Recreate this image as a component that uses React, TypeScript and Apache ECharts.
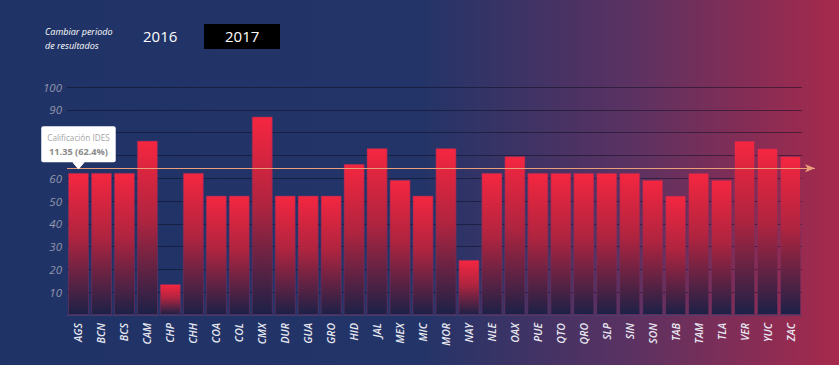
import React, { useEffect, useRef } from "react";
import * as echarts from "echarts";

const categories = ["AGS","BCN","BCS","CAM","CHP","CHH","COA","COL","CMX","DUR","GUA","GRO","HID","JAL","MEX","MIC","MOR","NAY","NLE","OAX","PUE","QTO","QRO","SLP","SIN","SON","TAB","TAM","TLA","VER","YUC","ZAC"];
const values = [62.4,62.4,62.4,76.5,13.6,62.4,52.4,52.4,87.1,52.4,52.4,52.4,66.3,73.2,59.3,52.4,73.2,24.2,62.4,69.7,62.4,62.4,62.4,62.4,62.4,59.3,52.4,62.4,59.3,76.5,73.2,69.7];
const referenceValue = 64.4;
const yTicks = [0, 100, 10];
// tick labels hidden: 0 is not shown, 70 and 80 sit under the tooltip box
const hiddenTickLabels = [0, 70, 80];
const tipCategory = "AGS";
const tipTitle = "Calificación IDES";
const tipScore = "11.35";
const tipPercent = 62.4;
const periods = ["2016", "2017"];

export default function App() {
  const ref = useRef<HTMLDivElement>(null);
  useEffect(() => {
    document.body.style.margin = "0";
    const chart = echarts.init(ref.current!, null, { renderer: "svg" });
    const font = "Open Sans";
    const pointer = {
      coord: [tipCategory, tipPercent],
      symbol: "triangle",
      symbolRotate: 180,
      symbolSize: [12, 7],
      symbolOffset: [0, -7],
      itemStyle: { color: "#ffffff" },
    };
    chart.setOption({
      animation: false,
      backgroundColor: {
        type: "linear", x: 0, y: 0, x2: 1, y2: 0,
        colorStops: [
          { offset: 0, color: "#203366" },
          { offset: 0.5, color: "#233468" },
          { offset: 0.75, color: "#5a3262" },
          { offset: 1, color: "#a6294c" },
        ],
      },
      textStyle: { fontFamily: font },
      graphic: [
        { type: "text", left: 45, top: 24, style: { text: "Cambiar periodo\nde resultados", fill: "#ffffff", font: "italic 9px 'Open Sans'", lineHeight: 14 } },
        { type: "text", left: 143, top: 28, style: { text: periods[0], fill: "#ffffff", font: "15px 'Open Sans'" } },
        { type: "rect", left: 204, top: 24, shape: { width: 76, height: 25 }, style: { fill: "#000000" } },
        { type: "text", left: 225, top: 28, style: { text: periods[1], fill: "#ffffff", font: "15px 'Open Sans'" } },
      ],
      grid: { left: 67, right: 37, top: 87, bottom: 50 },
      xAxis: {
        type: "category",
        data: categories,
        axisLine: { show: true, lineStyle: { color: "rgba(110,90,150,0.5)" } },
        axisTick: { show: false },
        axisLabel: { rotate: 90, color: "#e9e9f2", fontStyle: "italic", fontWeight: 600, fontSize: 10.5, margin: 8, interval: 0 },
      },
      yAxis: {
        type: "value",
        min: yTicks[0], max: yTicks[1], interval: yTicks[2],
        axisLine: { show: false },
        axisTick: { show: false },
        axisLabel: { color: "#9297ad", fontStyle: "italic", fontSize: 11.5, margin: 5, formatter: (v: number) => (hiddenTickLabels.includes(v) ? "" : String(v)) },
        splitLine: { lineStyle: { color: "rgba(10,12,30,0.5)", width: 1 } },
      },
      series: [
        {
          type: "bar",
          data: values,
          barCategoryGap: "8%",
          itemStyle: {
            color: {
              type: "linear", x: 0, y: 0, x2: 0, y2: 1,
              colorStops: [
                { offset: 0, color: "#f52640" },
                { offset: 0.45, color: "#b0243f" },
                { offset: 1, color: "#1c2147" },
              ],
            },
            borderColor: "rgba(120,50,100,0.55)",
            borderWidth: 1,
          },
          markLine: {
            z: 6,
            silent: true,
            symbol: ["none", "arrow"],
            symbolSize: [6, 10],
            label: { show: false },
            lineStyle: { color: "#e9a07a", width: 1, type: "solid" },
            data: [[{ yAxis: referenceValue, x: 67 }, { yAxis: referenceValue, x: 815 }]],
          },
          markPoint: {
            z: 10,
            silent: true,
            data: [
              {
                ...pointer,
                label: {
                  show: true,
                  position: "top",
                  distance: 0,
                  backgroundColor: "#ffffff",
                  borderRadius: 2,
                  padding: [4, 6, 18, 6],
                  lineHeight: 14,
                  color: "#a6a6a6",
                  fontSize: 8.2,
                  fontFamily: font,
                  formatter: () => tipTitle,
                },
              },
              {
                ...pointer,
                label: {
                  show: true,
                  position: "top",
                  distance: 3,
                  lineHeight: 15,
                  color: "#8a8a8a",
                  fontSize: 9.2,
                  fontWeight: "bold",
                  fontFamily: font,
                  formatter: () => `${tipScore} (${tipPercent}%)`,
                },
              },
            ],
          },
        },
      ],
    });
    return () => chart.dispose();
  }, []);
  return <div ref={ref} style={{ width: 839, height: 365 }} />;
}
